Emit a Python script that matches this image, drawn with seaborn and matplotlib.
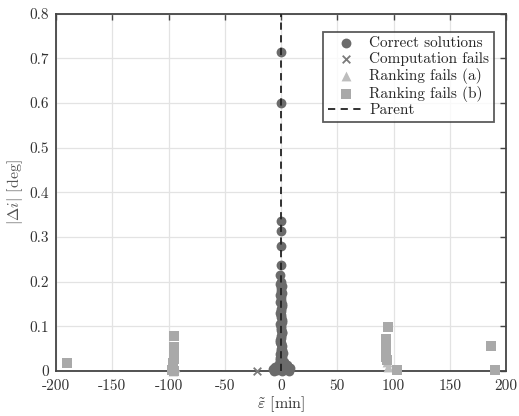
import matplotlib
matplotlib.use("Agg")
import matplotlib.pyplot as plt
import seaborn as sns
import pandas as pd

# ---- data ----
correct_x = [0, 0, 0, 0, 0, 0, -1, 0, 0.5, 0, -0.5, 0, 0.5, 0, -0.5, 0, 0.5, 0, 0, 0.5,
             0, -0.5, 0, 0.5, 0, 0, -0.5, 1, 0, 0.5, 1, -1, 1.5, 0,
             -0.5, 0, 0.5, 0, -0.5, 0.5, 0, 0, 0.5, -0.5, 0, 0.5, 0, -0.5, 1, 0,
             -7, -5, -4, -2, 2, 4, 6, 8, 7, -6, 3, -1, 1, -3, 5, 2]
correct_y = [0.715, 0.600, 0.335, 0.313, 0.280, 0.238, 0.215, 0.200, 0.190, 0.180, 0.170,
             0.160, 0.150, 0.140, 0.130, 0.120, 0.110, 0.100, 0.092, 0.085, 0.078, 0.070,
             0.063, 0.056, 0.050, 0.044, 0.038, 0.032, 0.027, 0.022, 0.018, 0.030, 0.040, 0.060,
             0.195, 0.185, 0.175, 0.165, 0.155, 0.145, 0.135, 0.125, 0.115, 0.105, 0.096,
             0.088, 0.074, 0.066, 0.047, 0.035,
             0.005, 0.010, 0.002, 0.015, 0.012, 0.004, 0.010, 0.006, 0.000, 0.000, 0.020,
             0.025, 0.000, 0.008, 0.014, 0.003]
compfail_x = [-21]
compfail_y = [0.0]
rank_a_x = [-96, -94, 95, 94]
rank_a_y = [0.000, 0.010, 0.010, 0.020]
rank_b_x = [-190, -95, -95, -95, -95, -95, -95, -96, -96, -97, -95,
            95, 93, 93, 93, 93, 93, 93, 94, 103, 187, 190]
rank_b_y = [0.018, 0.078, 0.055, 0.048, 0.040, 0.033, 0.026, 0.018, 0.010, 0.003, 0.000,
            0.099, 0.072, 0.064, 0.056, 0.048, 0.040, 0.032, 0.024, 0.003, 0.057, 0.003]
labels = ["Correct solutions", "Computation fails", "Ranking fails (a)", "Ranking fails (b)"]
parent_x = 0

df = pd.concat([
    pd.DataFrame({"x": correct_x, "y": correct_y, "kind": labels[0]}),
    pd.DataFrame({"x": compfail_x, "y": compfail_y, "kind": labels[1]}),
    pd.DataFrame({"x": rank_a_x, "y": rank_a_y, "kind": labels[2]}),
    pd.DataFrame({"x": rank_b_x, "y": rank_b_y, "kind": labels[3]}),
], ignore_index=True)

sns.set_style("white")
plt.rcParams["font.family"] = "serif"
plt.rcParams["font.serif"] = ["cmr10", "DejaVu Serif"]
plt.rcParams["mathtext.fontset"] = "cm"
plt.rcParams["axes.formatter.use_mathtext"] = True

fig, ax = plt.subplots(figsize=(5.19, 4.16), dpi=100)

palette = {labels[0]: "#6b6b6b", labels[1]: "#7a7a7a", labels[2]: "#bdbdbd", labels[3]: "#a9a9a9"}
markers = {labels[0]: "o", labels[1]: "X", labels[2]: "^", labels[3]: "s"}
order = [labels[2], labels[3], labels[1], labels[0]]
for k in order:
    sub = df[df["kind"] == k]
    if k == labels[1]:
        sns.scatterplot(data=sub, x="x", y="y", ax=ax, color=palette[k], marker="x",
                        s=30, linewidth=1.3, label=k, zorder=3, clip_on=False)
    else:
        sns.scatterplot(data=sub, x="x", y="y", ax=ax, color=palette[k], marker=markers[k],
                        s=50, linewidth=0, label=k, zorder=3, clip_on=False)
ax.axvline(parent_x, color="#222222", linestyle=(0, (4, 3)), linewidth=1.3, label="Parent", zorder=4)

ax.set_xlim(-200, 200)
ax.set_ylim(0, 0.8)
ax.set_xticks(range(-200, 201, 50))
ax.set_yticks([0, 0.1, 0.2, 0.3, 0.4, 0.5, 0.6, 0.7, 0.8])
ax.set_xticklabels([str(v) for v in range(-200, 201, 50)])
ax.set_yticklabels(["0", "0.1", "0.2", "0.3", "0.4", "0.5", "0.6", "0.7", "0.8"])
ax.grid(True, color="#e3e3e3", linewidth=0.9)
ax.set_axisbelow(True)
for s in ax.spines.values():
    s.set_color("#444444")
    s.set_linewidth(1.3)
ax.tick_params(direction="in", top=True, right=True, length=4, width=1, color="#444444",
               labelsize=11, labelcolor="#333333")
ax.tick_params(axis="x", pad=6)
ax.tick_params(axis="y", pad=5)
ax.set_xlabel(r"$\tilde{\varepsilon}$ [min]", fontsize=11.5, color="#333333", labelpad=1)
ax.set_ylabel(r"$|\Delta i|$ [deg]", fontsize=11.5, color="#555555", labelpad=3)

handles, labs = ax.get_legend_handles_labels()
hmap = dict(zip(labs, handles))
leg_order = labels + ["Parent"]
leg = ax.legend([hmap[l] for l in leg_order], leg_order, loc="upper right",
                frameon=True, fancybox=False, edgecolor="#333333", fontsize=11,
                borderpad=0.3, labelspacing=0.12, handlelength=2.4, handletextpad=0.3,
                bbox_to_anchor=(0.99, 0.97))
leg.get_frame().set_linewidth(1.3)

fig.subplots_adjust(left=0.108, right=0.975, top=0.967, bottom=0.108)
fig.savefig("out.png", dpi=100)
